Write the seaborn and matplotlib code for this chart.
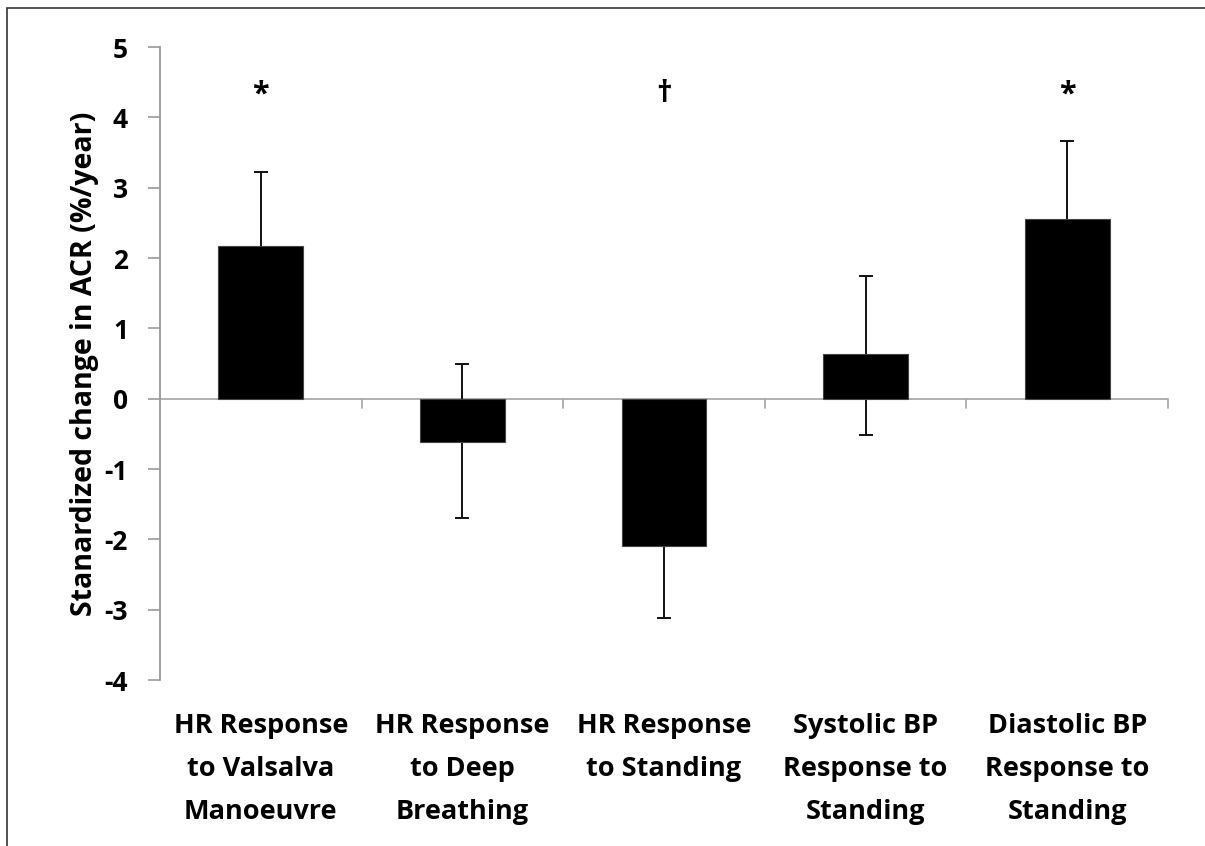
import pandas as pd
import numpy as np
import seaborn as sns
import matplotlib.pyplot as plt
from matplotlib.patches import Rectangle

# values
labels = ["HR Response\nto Valsalva\nManoeuvre",
          "HR Response\nto Deep\nBreathing",
          "HR Response\nto Standing",
          "Systolic BP\nResponse to\nStanding",
          "Diastolic BP\nResponse to\nStanding"]
change = [2.17, -0.61, -2.10, 0.64, 2.55]
ci_low = [1.12, -1.69, -3.12, -0.51, 1.44]
ci_high = [3.22, 0.50, -1.08, 1.75, 3.66]
marks = ["*", "", "\u2020", "", "*"]
yticks = [-4, -3, -2, -1, 0, 1, 2, 3, 4, 5]

sns.set_style("white")
plt.rcParams['font.family'] = ['Open Sans', 'DejaVu Sans']
plt.rcParams['font.weight'] = 'bold'
plt.rcParams['text.color'] = 'black'
plt.rcParams['axes.labelcolor'] = 'black'

df = pd.DataFrame({"label": labels, "change": change})

fig = plt.figure(figsize=(12.05, 8.46), dpi=100)
ax = fig.add_axes([0.1328, 0.1962, 0.8365, 0.7482])

sns.barplot(data=df, x="label", y="change", color="black", width=0.42,
            saturation=1, edgecolor="#444444", linewidth=0.8, ax=ax, zorder=2)

pos = np.arange(len(labels))
err = [np.array(change) - np.array(ci_low), np.array(ci_high) - np.array(change)]
ax.errorbar(pos, change, yerr=err, fmt="none", ecolor="#111111",
            elinewidth=1.4, capsize=5, capthick=1.4, zorder=1)

for x, m in zip(pos, marks):
    if m:
        ax.text(x, 4.33, m, ha="center", va="center", fontsize=22,
                fontweight="bold", color="black")

# axes look like the office-chart original
ax.set_ylim(-4, 5)
ax.set_xlim(-0.5, len(labels) - 0.5)
ax.set_yticks(yticks)
ax.set_yticklabels([str(t) for t in yticks], fontsize=19, fontweight="bold")
ax.tick_params(axis="y", direction="out", length=9, width=1.2, color="#999999",
               labelcolor="black", left=True, pad=14)
ax.set_xticks(pos)
ax.set_xticklabels(labels, fontsize=19.5, fontweight="bold", linespacing=1.85)
ax.tick_params(axis="x", length=0, pad=24, labelcolor="black")
ax.set_xlabel("")
ax.set_ylabel("Stanardized change in ACR (%/year)", fontsize=20.5,
              fontweight="bold", labelpad=4)

for s in ["top", "right", "bottom"]:
    ax.spines[s].set_visible(False)
ax.spines["left"].set_color("#999999")
ax.spines["left"].set_linewidth(1.3)
ax.axhline(0, color="#aaaaaa", lw=1.3, zorder=0.5)
# downward category-separator ticks on the zero line
for b in pos[:-1] + 0.5:
    ax.plot([b, b], [0, -0.13], color="#aaaaaa", lw=1.3, zorder=0.5)
ax.plot([pos[-1] + 0.5] * 2, [0, -0.13], color="#aaaaaa", lw=1.3,
        clip_on=False, zorder=0.5)

# thin frame round the figure
fig.patches.append(Rectangle((7 / 1205, -0.05), 1.1, 1 - 8 / 846 + 0.05,
                             transform=fig.transFigure, fill=False,
                             edgecolor="#333333", lw=1.2))

fig.savefig("out.png", dpi=100)
